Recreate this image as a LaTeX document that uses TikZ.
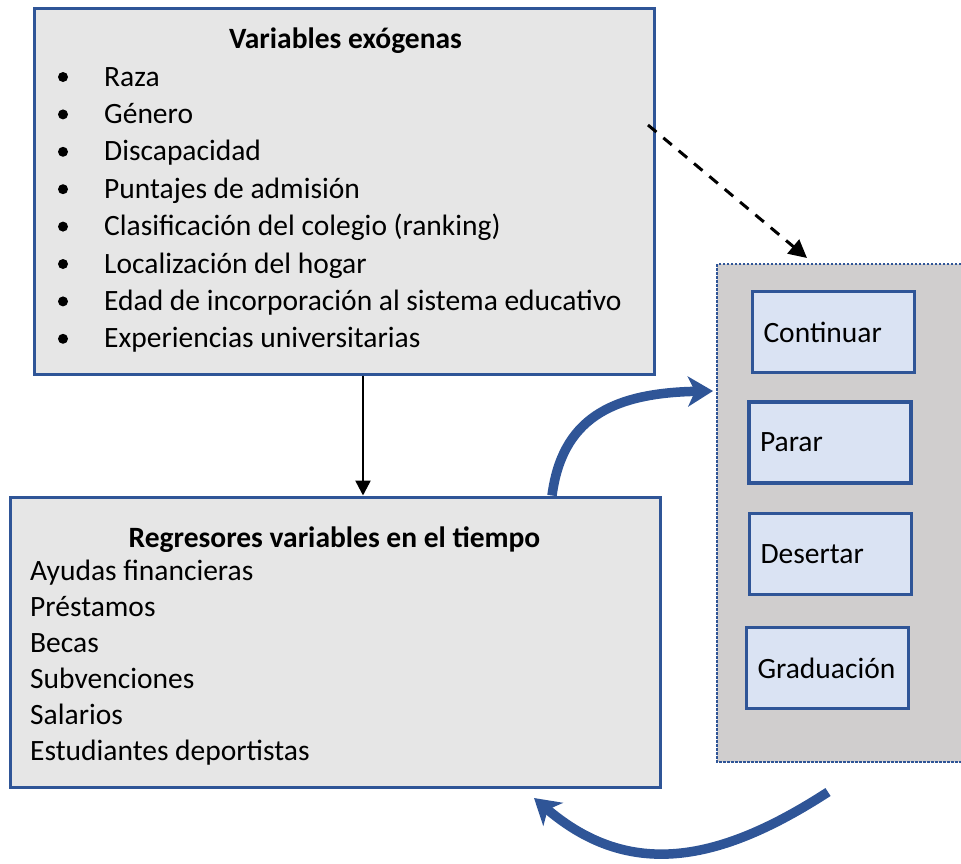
\documentclass[tikz,border=0pt]{standalone}
\usepackage{fontspec}
\setmainfont{Carlito}
\usepackage{tikz}
\usetikzlibrary{arrows.meta}

\definecolor{bordeazul}{HTML}{2F5597}
\definecolor{grisclaro}{HTML}{E6E6E6}
\definecolor{grispanel}{HTML}{D0CECE}
\definecolor{azulclaro}{HTML}{DAE3F3}

\begin{document}
\begin{tikzpicture}[x=1pt, y=-1pt,
  every node/.style={font=\fontsize{29.5}{35}\selectfont, inner sep=0pt},
  caja/.style={draw=bordeazul, line width=3pt, fill=grisclaro},
  estado/.style={draw=bordeazul, line width=3.5pt, fill=azulclaro, minimum width=162pt, minimum height=81pt,
                 text width=140pt, align=left, inner xsep=11pt},
  flecha/.style={draw=bordeazul, line width=9.5pt, -{Stealth[length=25pt, width=30pt, inset=7pt]}}]
\useasboundingbox (0,0) rectangle (961,863);

% the two grey boxes on the left
\node[caja, minimum width=620pt, minimum height=366pt] (exo) at (344,191) {};
\node[caja, minimum width=650pt, minimum height=290pt] (reg) at (335,642) {};

% panel with the four states
\fill[grispanel] (717,264) rectangle (965,762);
\draw[bordeazul, line width=2.5pt, dash pattern=on 2.5pt off 1.5pt] (965,264) -- (717,264) -- (717,762) -- (965,762);
\coordinate (estados) at (717,264);

\node[estado] (cont)   at (833.5,332) {Continuar};
\node[estado] (parar)  at (830,442.5) {Parar};
\node[estado] (desert) at (830.5,554) {Desertar};
\node[estado] (grad)   at (827.5,668) {Graduación};

% texts of the top box
\node[anchor=base, font=\fontsize{29.5}{35}\selectfont\bfseries] (titexo) at (345.5,48) {Variables exógenas};
\foreach \txt [count=\i] in {Raza, Género, Discapacidad, Puntajes de admisión, Clasificación del colegio (ranking),
    Localización del hogar, Edad de incorporación al sistema educativo, Experiencias universitarias}
{
  \fill (63,86+37.4*\i-37.4-9) circle (5pt);
  \node[anchor=base west] (exo\i) at (104,86+37.4*\i-37.4) {\txt};
}

% texts of the bottom box
\node[anchor=base, font=\fontsize{29.5}{35}\selectfont\bfseries] (titreg) at (334.5,547) {Regresores variables en el tiempo};
\foreach \txt [count=\i] in {Ayudas financieras, Préstamos, Becas, Subvenciones, Salarios, Estudiantes deportistas}
  \node[anchor=base west] (reg\i) at (30,580+36*\i-36) {\txt};

% arrows
\coordinate (dashini) at (648,125);
\coordinate (dashfin) at (807,258);
\draw[line width=3pt, dash pattern=on 11pt off 9pt, -{Triangle[length=18pt, width=18pt]}] (dashini) -- (dashfin);
\draw[line width=2.5pt, -{Triangle[length=15pt, width=15pt]}] (exo.south -| 363,0) -- (reg.north -| 363,0);

\coordinate (entrada) at (713,391);
\draw[flecha] (reg.north -| 552,0) .. controls (562,420) and (610,393) .. (entrada);
\coordinate (salida) at (828,792);
\coordinate (retorno) at (534,798);
\draw[flecha] (salida) .. controls (720,862) and (630,880) .. (retorno);
\end{tikzpicture}
\end{document}
